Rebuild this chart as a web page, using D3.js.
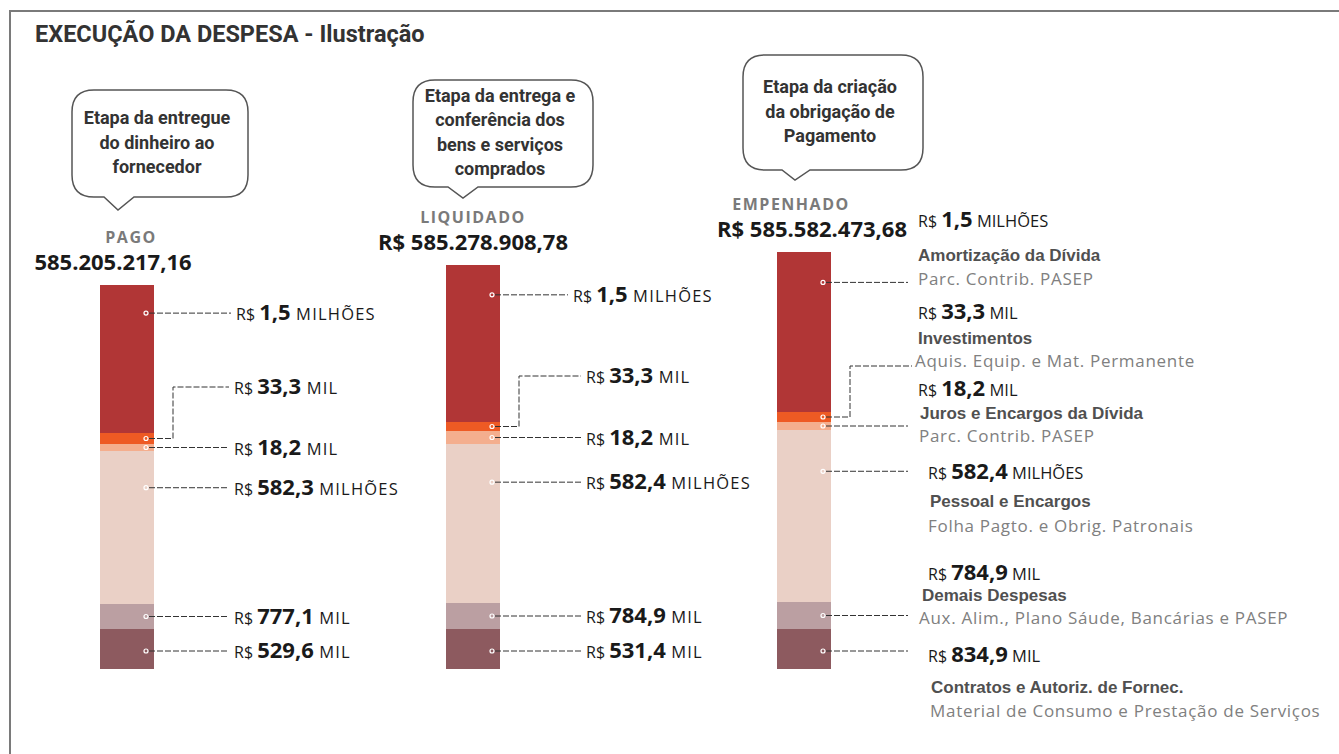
<!DOCTYPE html>
<html>
<head>
<meta charset="utf-8">
<script src="https://cdn.jsdelivr.net/npm/d3@7"></script>
<style>
  body { margin: 0; background: #fff; }
  svg { display: block; }
</style>
</head>
<body>
<div id="chart"></div>
<script>
const width = 1339;
const height = 754;

// etapas da despesa
const stages = ["PAGO", "LIQUIDADO", "EMPENHADO"];
const stageTotals = ["585.205.217,16", "R$ 585.278.908,78", "R$ 585.582.473,68"];
const stageNotes = [
    ["Etapa da entregue", "do dinheiro ao", "fornecedor"],
    ["Etapa da entrega e", "conferência dos", "bens e serviços", "comprados"],
    ["Etapa da criação", "da obrigação de", "Pagamento"]
];

// grupos de despesa (de cima para baixo na barra)
const categories = ["Amortização da Dívida", "Investimentos", "Juros e Encargos da Dívida",
    "Pessoal e Encargos", "Demais Despesas", "Contratos e Autoriz. de Fornec."];
const categoryDetails = ["Parc. Contrib. PASEP", "Aquis. Equip. e Mat. Permanente", "Parc. Contrib. PASEP",
    "Folha Pagto. e Obrig. Patronais", "Aux. Alim., Plano Sáude, Bancárias e PASEP",
    "Material de Consumo e Prestação de Serviços"];
const units = ["MILHÕES", "MIL", "MIL", "MILHÕES", "MIL", "MIL"];

const pagoValues = [1.5, 33.3, 18.2, 582.3, 777.1, 529.6];
const liquidadoValues = [1.5, 33.3, 18.2, 582.4, 784.9, 531.4];
const empenhadoValues = [1.5, 33.3, 18.2, 582.4, 784.9, 834.9];

// tamanho desenhado de cada faixa (é ilustração, nao proporcional ao valor)
const pagoShares = [148, 11, 7, 153, 25, 40];
const liquidadoShares = [157, 9, 13, 159, 26, 40];
const empenhadoShares = [160, 10, 8, 172, 27, 40];

const colors = ["#b13636", "#ee5a24", "#f4ae8e", "#ead0c6", "#bb9fa2", "#8d5a5f"];

const stageValues = [pagoValues, liquidadoValues, empenhadoValues];
const stageShares = [pagoShares, liquidadoShares, empenhadoShares];

const locale = d3.formatLocale({decimal: ",", thousands: ".", grouping: [3], currency: ["R$ ", ""]});
const fmt = locale.format(".1f");

const svg = d3.select("#chart").append("svg")
    .attr("width", width)
    .attr("height", height)
    .attr("viewBox", [0, 0, width, height]);

// moldura
svg.append("path")
    .attr("d", `M10,${height} V11 H${width}`)
    .attr("fill", "none")
    .attr("stroke", "#7a7a7a")
    .attr("stroke-width", 2);

svg.append("text")
    .attr("x", 35)
    .attr("y", 42)
    .style("font-family", "Roboto, sans-serif")
    .style("font-weight", "700")
    .style("font-size", "23.5px")
    .style("fill", "#333")
    .text("EXECUÇÃO DA DESPESA - Ilustração");

// escalas
const barWidth = 54;
const x = d3.scaleOrdinal().domain(stages).range([127, 473, 804]);
const y = d3.scaleLinear().domain([0, 420]).range([669, 249]);

// ponto de ancoragem da linha dentro de cada faixa (fração a partir do topo)
const anchorFrac = [0.19, 0.5, 0.5, 0.24, 0.5, 0.55];

const layout = stages.map((s, si) => {
    const shares = stageShares[si];
    const total = d3.sum(shares);
    let top = total;
    return shares.map((v, i) => {
        const seg = {stage: s, si: si, i: i, value: stageValues[si][i], unit: units[i],
            y0: y(top), y1: y(top - v)};
        seg.anchor = seg.y0 + (seg.y1 - seg.y0) * anchorFrac[i];
        top -= v;
        return seg;
    });
});

// balões
const bubbles = [
    {x: 72, y: 90, w: 176, h: 107, tip: [118, 210], base: [104, 134]},
    {x: 413, y: 80, w: 180, h: 107, tip: [463, 198], base: [448, 478]},
    {x: 743, y: 55, w: 180, h: 115, tip: [795, 180], base: [782, 810]}
];

function bubblePath(b) {
    const r = 22, x0 = b.x, y0 = b.y, x1 = b.x + b.w, y1 = b.y + b.h;
    return `M${x0 + r},${y0} H${x1 - r} Q${x1},${y0} ${x1},${y0 + r} V${y1 - r} Q${x1},${y1} ${x1 - r},${y1}`
        + ` H${b.base[1]} L${b.tip[0]},${b.tip[1]} L${b.base[0]},${y1} H${x0 + r}`
        + ` Q${x0},${y1} ${x0},${y1 - r} V${y0 + r} Q${x0},${y0} ${x0 + r},${y0} Z`;
}

const bubbleG = svg.append("g").selectAll("g")
    .data(bubbles)
    .join("g");

bubbleG.append("path")
    .attr("d", bubblePath)
    .attr("fill", "#fff")
    .attr("stroke", "#555")
    .attr("stroke-width", 1.5);

bubbleG.each(function(b, bi) {
    const lines = stageNotes[bi];
    const mid = b.y + b.h / 2;
    d3.select(this).selectAll("text")
        .data(lines)
        .join("text")
        .attr("x", b.x + b.w / 2 - 3)
        .attr("y", (d, k) => mid + (k - (lines.length - 1) / 2) * 24.5 + 5)
        .attr("text-anchor", "middle")
        .style("font-family", "Roboto, sans-serif")
        .style("font-weight", "700")
        .style("font-size", "18px")
        .style("fill", "#333")
        .text(d => d);
});

// cabeçalhos das barras
const headerDx = [4, 0, -13];
const totalDx = [-14, 0, 8];
stages.forEach((s, si) => {
    const top = layout[si][0].y0;
    svg.append("text")
        .attr("x", x(s) + headerDx[si])
        .attr("y", top - 42)
        .attr("text-anchor", "middle")
        .style("font-family", "'Open Sans', sans-serif")
        .style("font-weight", "700")
        .style("font-size", "16px")
        .style("letter-spacing", "1.5px")
        .style("fill", "#7a7a7a")
        .text(s);
    svg.append("text")
        .attr("x", x(s) + totalDx[si])
        .attr("y", top - 15)
        .attr("text-anchor", "middle")
        .style("font-family", "'Open Sans', sans-serif")
        .style("font-weight", "700")
        .style("font-size", "22px")
        .style("fill", "#1a1a1a")
        .text(stageTotals[si]);
});

// barras empilhadas
svg.append("g").selectAll("g")
    .data(layout)
    .join("g")
    .selectAll("rect")
    .data(d => d)
    .join("rect")
    .attr("x", d => x(d.stage) - barWidth / 2)
    .attr("width", barWidth)
    .attr("y", d => d.y0)
    .attr("height", d => d.y1 - d.y0)
    .attr("fill", d => colors[d.i]);

function valueLabel(g, d, lx, ly, unitSpacing) {
    const t = g.append("text")
        .attr("x", lx)
        .attr("y", ly)
        .style("font-family", "'Open Sans', sans-serif")
        .style("fill", "#1a1a1a");
    t.append("tspan").style("font-size", "16px").text("R$ ");
    t.append("tspan").style("font-size", "22px").style("font-weight", "700").text(fmt(d.value));
    t.append("tspan").style("font-size", "16.5px").style("letter-spacing", unitSpacing + "px").text(" " + d.unit);
}

const leaders = svg.append("g");
const labels = svg.append("g");

function leader(points) {
    leaders.append("path")
        .attr("d", d3.line()(points))
        .attr("fill", "none")
        .attr("stroke", "#333")
        .attr("stroke-width", 1)
        .attr("stroke-dasharray", "6,2");
}

// PAGO e LIQUIDADO: rótulos com valor
const labelGap = [80, 86];
const firstDx = [2, -13];
[0, 1].forEach(si => {
    const right = x(stages[si]) + barWidth / 2;
    const lx = right + labelGap[si];
    layout[si].forEach(d => {
        const mx = right - 7;
        let ly = d.anchor;
        let dx = d.i === 0 ? firstDx[si] : 0;
        if (d.i === 1) {
            ly = layout[si][0].y1 - 46;
            leader([[mx + 2, d.anchor], [mx + 26, d.anchor], [mx + 26, ly], [lx - 5, ly]]);
        } else {
            leader([[mx + 2, ly], [lx + dx - 5, ly]]);
        }
        valueLabel(labels, d, lx + dx, ly + 7, 1.2);
    });
});

// EMPENHADO: rótulos com valor, grupo e detalhe
const empBlocks = [
    {v: -62, t: -27, s: -3, vx: 0, tx: 0, sx: 0},
    {v: -54, t: -28, s: -5, vx: 0, tx: 0, sx: -3},
    {v: -37, t: -13, s: 10, vx: 0, tx: 2, sx: 1},
    {v: 1, t: 30, s: 55, vx: 10, tx: 12, sx: 10},
    {v: -43, t: -21, s: 2, vx: 10, tx: 4, sx: 1},
    {v: 4, t: 36, s: 60, vx: 10, tx: 13, sx: 12}
];
{
    const si = 2;
    const right = x(stages[si]) + barWidth / 2;
    const lx = 918;
    layout[si].forEach(d => {
        const mx = right - 7;
        let ly = d.anchor;
        if (d.i === 1) {
            ly = layout[si][0].y1 - 46;
            leader([[mx + 2, d.anchor], [mx + 26, d.anchor], [mx + 26, ly], [lx - 6, ly]]);
        } else {
            leader([[mx + 2, ly], [lx - 10, ly]]);
        }
        const b = empBlocks[d.i];
        valueLabel(labels, d, lx + b.vx, ly + b.v + 7, 0);
        labels.append("text")
            .attr("x", lx + b.tx)
            .attr("y", ly + b.t + 6)
            .style("font-family", "'Liberation Sans', Arial, sans-serif")
            .style("font-weight", "700")
            .style("font-size", "17px")
            .style("fill", "#505050")
            .text(categories[d.i]);
        labels.append("text")
            .attr("x", lx + b.sx)
            .attr("y", ly + b.s + 6)
            .style("font-family", "'Open Sans', sans-serif")
            .style("font-size", "17px")
            .style("letter-spacing", "0.7px")
            .style("fill", "#808080")
            .text(categoryDetails[d.i]);
    });
}

// marcadores brancos dentro das barras
layout.forEach((segs, si) => {
    const right = x(stages[si]) + barWidth / 2;
    svg.append("g").selectAll("circle")
        .data(segs)
        .join("circle")
        .attr("cx", right - 8)
        .attr("cy", d => d.anchor)
        .attr("r", 2)
        .attr("fill", "none")
        .attr("stroke", "#fff")
        .attr("stroke-width", 1.2);
});
</script>
</body>
</html>
